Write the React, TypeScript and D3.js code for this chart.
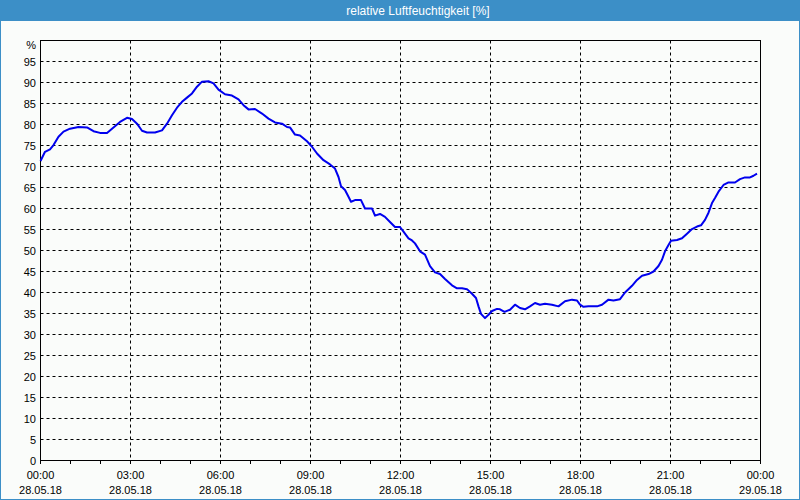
import React from "react";
import * as d3 from "d3";

const minutes = [0, 9, 19, 26, 36, 46, 59, 76, 93, 106, 119, 133, 146, 159, 173, 183, 193, 203, 213, 229, 243, 253, 263, 273, 283, 293, 303, 313, 323, 336, 346, 356, 369, 383, 396, 406, 416, 429, 443, 456, 469, 483, 493, 499, 509, 519, 533, 543, 553, 566, 579, 589, 596, 601, 609, 616, 621, 629, 641, 649, 663, 669, 679, 689, 699, 709, 719, 726, 736, 743, 749, 759, 769, 779, 789, 799, 809, 823, 833, 843, 853, 863, 871, 876, 881, 889, 896, 903, 913, 919, 928, 939, 949, 959, 969, 979, 989, 999, 1009, 1023, 1036, 1049, 1063, 1073, 1079, 1086, 1096, 1113, 1123, 1136, 1146, 1159, 1169, 1183, 1193, 1203, 1216, 1226, 1236, 1243, 1249, 1256, 1261, 1273, 1283, 1293, 1303, 1313, 1321, 1329, 1336, 1343, 1349, 1356, 1366, 1376, 1389, 1399, 1409, 1419, 1426, 1433];
const humidity = [71.3, 73.5, 74.1, 75.1, 77.1, 78.3, 79.0, 79.4, 79.3, 78.4, 78.0, 78.0, 79.3, 80.6, 81.6, 81.3, 80.2, 78.5, 78.1, 78.1, 78.6, 80.2, 82.2, 84.0, 85.4, 86.4, 87.4, 89.0, 90.2, 90.3, 89.8, 88.3, 87.2, 86.9, 86.0, 84.6, 83.6, 83.7, 82.6, 81.4, 80.5, 80.2, 79.4, 79.3, 77.6, 77.4, 76.0, 74.7, 73.1, 71.5, 70.5, 69.5, 67.5, 65.3, 64.4, 62.8, 61.6, 62.0, 62.0, 60.0, 60.0, 58.3, 58.7, 58.0, 56.8, 55.6, 55.6, 54.5, 52.9, 52.4, 51.7, 49.8, 49.0, 46.3, 44.8, 44.4, 43.2, 41.7, 41.0, 41.0, 40.8, 39.7, 38.7, 36.7, 34.9, 33.9, 34.7, 35.6, 36.1, 36.0, 35.4, 35.9, 37.1, 36.3, 36.0, 36.7, 37.5, 37.1, 37.3, 37.1, 36.7, 37.9, 38.3, 38.1, 37.1, 36.6, 36.7, 36.7, 37.1, 38.3, 38.1, 38.4, 40.0, 41.6, 43.0, 44.0, 44.4, 45.0, 46.3, 47.8, 49.8, 51.3, 52.3, 52.5, 52.9, 54.0, 55.1, 55.7, 56.0, 57.3, 59.0, 61.3, 62.5, 64.0, 65.6, 66.2, 66.2, 67.0, 67.4, 67.4, 67.8, 68.3];

const yTicks = d3.range(0, 100, 5);
const xTickHours = [0, 3, 6, 9, 12, 15, 18, 21, 24];
const xTimeLabels = ["00:00", "03:00", "06:00", "09:00", "12:00", "15:00", "18:00", "21:00", "00:00"];
const xDateLabels = ["28.05.18", "28.05.18", "28.05.18", "28.05.18", "28.05.18", "28.05.18", "28.05.18", "28.05.18", "29.05.18"];
const minorHours = d3.range(0, 25, 1);
const title = "relative Luftfeuchtigkeit [%]";
const unit = "%";

export default function App() {
  const W = 800, H = 500;
  const x = d3.scaleLinear().domain([0, 24 * 60]).range([40.5, 760.5]);
  const y = d3.scaleLinear().domain([0, 100]).range([460.5, 40.5]);
  const data = minutes.map((m, i) => [m, humidity[i]] as [number, number]);
  const line = d3.line<[number, number]>().x(d => x(d[0])).y(d => y(d[1]))(data) || "";
  const font = "'Liberation Sans', Arial, sans-serif";
  const blue = "#3c8fc7";

  return (
    <svg width={W} height={H} style={{ position: "absolute", left: 0, top: 0 }} fontFamily={font}>
      <rect x={0} y={0} width={W} height={H} fill="#fafcfa" />
      <rect x={0.5} y={0.5} width={W - 1} height={H - 1} fill="none" stroke={blue} strokeWidth={1} />
      <rect x={0} y={0} width={W} height={21} fill={blue} />
      <text x={418} y={15} textAnchor="middle" fill="#ffffff" fontSize={12}>{title}</text>

      {yTicks.filter(v => v > 0).map(v => (
        <line key={"h" + v} x1={40.5} x2={760.5} y1={y(v)} y2={y(v)} stroke="#000" strokeWidth={1} strokeDasharray="3,3" />
      ))}
      {xTickHours.filter(h => h > 0 && h < 24).map(h => (
        <line key={"v" + h} x1={x(h * 60)} x2={x(h * 60)} y1={40.5} y2={460.5} stroke="#000" strokeWidth={1} strokeDasharray="3,3" />
      ))}
      {minorHours.map(h => (
        <line key={"t" + h} x1={x(h * 60)} x2={x(h * 60)} y1={460.5} y2={464} stroke="#000" strokeWidth={1} />
      ))}
      <rect x={40.5} y={40.5} width={720} height={420} fill="none" stroke="#000" strokeWidth={1} />

      {yTicks.map(v => (
        <text key={"yl" + v} x={36} y={y(v) + 4} textAnchor="end" fontSize={11} fill="#000">{v}</text>
      ))}
      <text x={36} y={49} textAnchor="end" fontSize={11} fill="#000">{unit}</text>

      {xTickHours.map((h, i) => (
        <g key={"xl" + i}>
          <text x={x(h * 60)} y={479} textAnchor="middle" fontSize={11} fill="#000">{xTimeLabels[i]}</text>
          <text x={x(h * 60)} y={494} textAnchor="middle" fontSize={11} fill="#000">{xDateLabels[i]}</text>
        </g>
      ))}

      <path d={line} fill="none" stroke="#0000ee" strokeWidth={2} strokeLinejoin="round" />
    </svg>
  );
}
